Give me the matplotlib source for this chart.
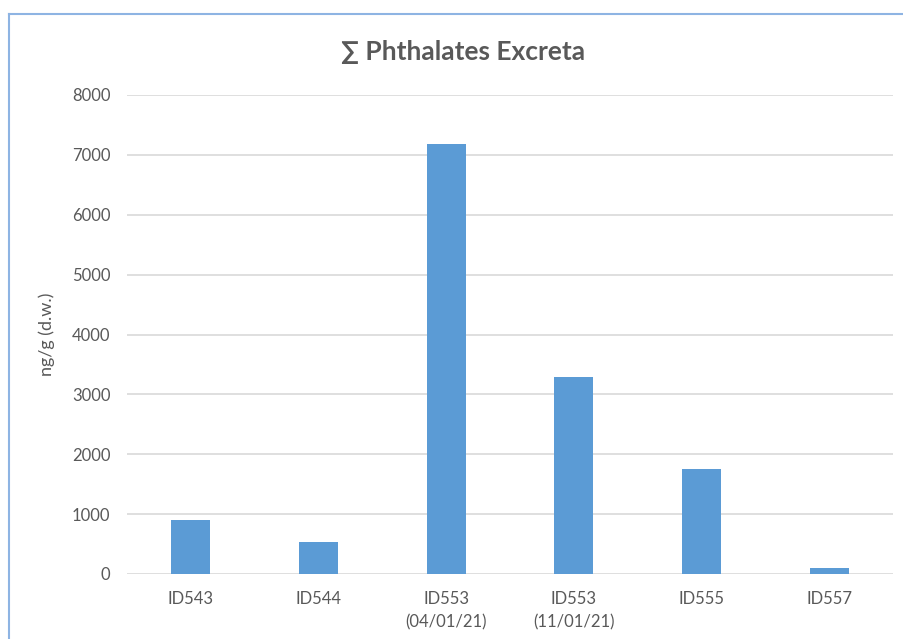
import matplotlib
matplotlib.use("Agg")
import matplotlib.pyplot as plt
from matplotlib.lines import Line2D

categories = ["ID543", "ID544", "ID553\n(04/01/21)", "ID553\n(11/01/21)", "ID555", "ID557"]
values = [900, 528, 7180, 3290, 1748, 105]
yticks = [0, 1000, 2000, 3000, 4000, 5000, 6000, 7000, 8000]

plt.rcParams['font.family'] = ['Lato', 'DejaVu Sans']

fig = plt.figure(figsize=(9.04, 6.39), dpi=100)
ax = fig.add_axes([127/904, 1 - 574/639, (893 - 127)/904, (574 - 95)/639])

x = range(len(categories))
ax.bar(x, values, width=0.305, color="#5B9BD5", zorder=3)
ax.set_xlim(-0.5, len(categories) - 0.5)
ax.set_ylim(0, 8000)
ax.set_yticks(yticks)
ax.set_yticklabels([str(v) for v in yticks])
ax.set_xticks(list(x))
ax.set_xticklabels(categories, linespacing=1.55)
ax.tick_params(axis='both', length=0, labelsize=12, colors="#595959")
ax.tick_params(axis='y', pad=12)
ax.tick_params(axis='x', pad=12)
ax.grid(axis='y', color="#D9D9D9", linewidth=1.2, zorder=0)
for s in ax.spines.values():
    s.set_visible(False)
ax.set_ylabel("ng/g (d.w.)", fontsize=13, color="#595959", labelpad=12)

fig.text(463/904, 1 - 52/639, "∑ Phthalates Excreta", ha='center', va='center',
         fontsize=19, fontweight='bold', color="#595959")

# chart frame (partially visible)
fig.add_artist(Line2D([9/904, 9/904], [0, 1 - 14/639], transform=fig.transFigure,
                      color="#8EB4E3", linewidth=1.5))
fig.add_artist(Line2D([9/904, 1], [1 - 14/639, 1 - 14/639], transform=fig.transFigure,
                      color="#8EB4E3", linewidth=1.5))

fig.savefig("out.png", dpi=100)
